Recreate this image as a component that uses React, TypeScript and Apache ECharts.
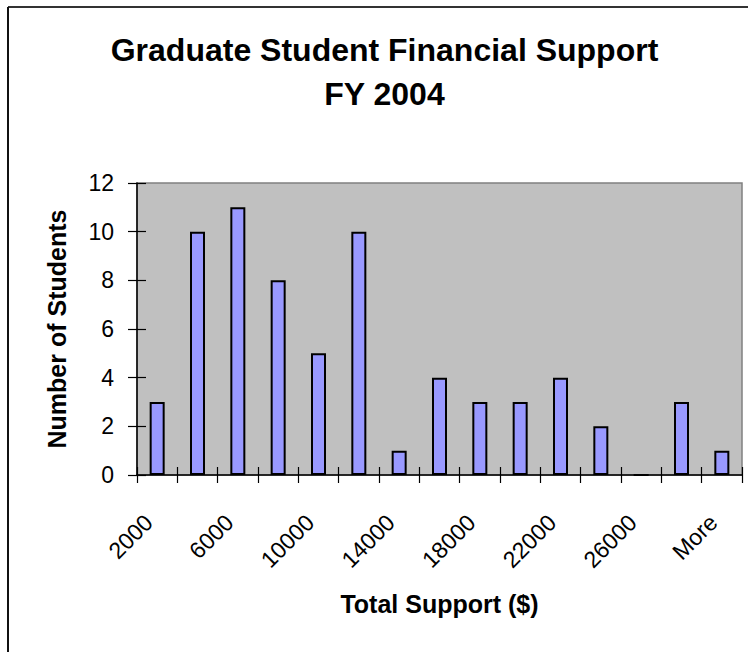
import React, { useEffect, useRef } from "react";
import * as echarts from "echarts";

const categories = ["2000", "4000", "6000", "8000", "10000", "12000", "14000", "16000", "18000", "20000", "22000", "24000", "26000", "28000", "More"];
const counts = [3, 10, 11, 8, 5, 10, 1, 4, 3, 3, 4, 2, 0, 3, 1];
const yMin = 0;
const yMax = 12;
const yStep = 2;

const titleText = "Graduate Student Financial Support\nFY 2004";
const xTitle = "Total Support ($)";
const yTitle = "Number of Students";

const FONT = "'Liberation Sans', Arial, sans-serif";

export default function App() {
  const ref = useRef<HTMLDivElement>(null);
  useEffect(() => {
    if (!ref.current) return;
    const chart = echarts.init(ref.current, undefined, { renderer: "svg" });
    chart.setOption({
      animation: false,
      backgroundColor: "#ffffff",
      textStyle: { fontFamily: FONT },
      title: {
        text: titleText,
        left: 384.5,
        top: 27.5,
        textAlign: "center",
        padding: 0,
        textStyle: { fontSize: 32, fontWeight: "bold", color: "#000", lineHeight: 44, fontFamily: FONT },
      },
      grid: {
        left: 137,
        top: 183,
        right: 6,
        bottom: 177,
        show: true,
        backgroundColor: "#C0C0C0",
        borderColor: "#808080",
        borderWidth: 1.5,
        containLabel: false,
        outerBoundsMode: "none",
      },
      graphic: [
        { type: "line", shape: { x1: 8, y1: 7, x2: 748, y2: 7 }, style: { stroke: "#333", lineWidth: 2 } },
        { type: "line", shape: { x1: 8, y1: 7, x2: 8, y2: 652 }, style: { stroke: "#111", lineWidth: 2 } },
      ],
      xAxis: [
        {
          type: "category",
          data: categories,
          position: "bottom",
          boundaryGap: true,
          axisLine: { show: true, lineStyle: { color: "#000", width: 1.5 } },
          axisTick: { show: true, interval: 0, length: 8, lineStyle: { color: "#000", width: 1.2 } },
          axisLabel: {
            interval: 1,
            rotate: 45,
            margin: 35,
            padding: [0, 12, 0, 0],
            fontSize: 23,
            color: "#000",
            fontFamily: FONT,
          },
          name: xTitle,
          nameLocation: "middle",
          nameGap: 116,
          nameTextStyle: { fontSize: 25, fontWeight: "bold", color: "#000", fontFamily: FONT },
          splitLine: { show: false },
        },
        {
          type: "category",
          data: categories,
          position: "bottom",
          boundaryGap: true,
          axisLine: { show: false },
          axisTick: { show: true, inside: true, interval: 0, length: 8, lineStyle: { color: "#000", width: 1.2 } },
          axisLabel: { show: false },
          splitLine: { show: false },
        },
      ],
      yAxis: [
        {
          type: "value",
          min: yMin,
          max: yMax,
          interval: yStep,
          position: "left",
          axisLine: { show: true, lineStyle: { color: "#000", width: 1.5 } },
          axisTick: { show: true, length: 9, lineStyle: { color: "#000", width: 1.2 } },
          axisLabel: { margin: 23, fontSize: 23, color: "#000", fontFamily: FONT },
          splitLine: { show: false },
          name: yTitle,
          nameLocation: "middle",
          nameRotate: 90,
          nameGap: 68,
          nameTextStyle: { fontSize: 25, fontWeight: "bold", color: "#000", fontFamily: FONT },
        },
        {
          type: "value",
          min: yMin,
          max: yMax,
          interval: yStep,
          position: "left",
          axisLine: { show: false },
          axisTick: { show: true, inside: true, length: 9, lineStyle: { color: "#000", width: 1.2 } },
          axisLabel: { show: false },
          splitLine: { show: false },
        },
      ],
      series: [
        {
          type: "bar",
          data: counts,
          xAxisIndex: 0,
          yAxisIndex: 0,
          barWidth: 15,
          itemStyle: { color: "#9999FF", borderColor: "#000", borderWidth: 2 },
        },
      ],
    });
    return () => chart.dispose();
  }, []);
  return (
    <div
      ref={ref}
      style={{ position: "absolute", left: 0, top: 0, width: 748, height: 652 }}
    />
  );
}
